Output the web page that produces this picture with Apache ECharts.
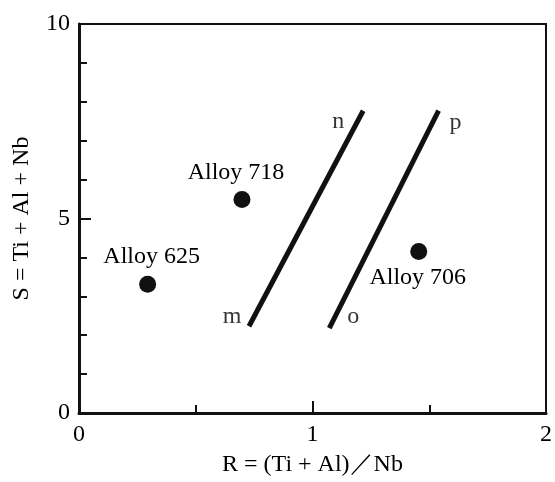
<!DOCTYPE html>
<html><head><meta charset="utf-8">
<script src="https://cdn.jsdelivr.net/npm/echarts@6/dist/echarts.min.js"></script>
<style>html,body{margin:0;padding:0;background:#fff}#c{width:555px;height:482px}</style>
</head><body><div id="c"></div>
<script>
// Data
const alloyNames = ['Alloy 625', 'Alloy 718', 'Alloy 706'];
const alloyR = [0.294, 0.698, 1.455];
const alloyS = [3.31, 5.49, 4.15];
const lineMN = [[0.728, 2.23], [1.217, 7.77]];
const lineOP = [[1.072, 2.18], [1.540, 7.77]];
const lineEndNames = ['m', 'n', 'o', 'p'];
const xTickLabels = ['0', '1', '2'];
const yTickLabels = ['0', '5', '10'];

const FONT = 'Liberation Serif';
const FS = 24;
const INK = '#000';
const alloyOffsets = [[4, -28], [-6, -27], [-1, 26]];
const endOffsets = [[-17, -10], [-25, 11], [24, -11], [17, 12]];
const ends = [lineMN[0], lineMN[1], lineOP[0], lineOP[1]];

const chart = echarts.init(document.getElementById('c'), null, {renderer: 'canvas'});
chart.setOption({
  animation: false,
  backgroundColor: '#fff',
  grid: {left: 79, right: 6, top: 24, bottom: 68, show: true, borderColor: '#111', borderWidth: 2, backgroundColor: 'transparent'},
  xAxis: {
    type: 'value', min: 0, max: 2, interval: 1,
    name: 'R = (Ti + Al)／Nb', nameLocation: 'middle', nameGap: 40,
    nameTextStyle: {fontFamily: FONT, fontSize: FS, color: INK},
    axisLine: {show: true, lineStyle: {color: '#111', width: 3}},
    axisTick: {show: true, inside: true, length: 12, lineStyle: {color: '#111', width: 2}},
    minorTick: {show: true, splitNumber: 2, length: 8, lineStyle: {color: '#111', width: 2}},
    splitLine: {show: false},
    axisLabel: {margin: 10, fontFamily: FONT, fontSize: FS, color: INK,
      formatter: v => xTickLabels[Math.round(v)] }
  },
  yAxis: {
    type: 'value', min: 0, max: 10, interval: 5,
    name: 'S = Ti + Al + Nb', nameLocation: 'middle', nameGap: 45, nameRotate: 90,
    nameTextStyle: {fontFamily: FONT, fontSize: FS, color: INK},
    axisLine: {show: true, lineStyle: {color: '#111', width: 3}},
    axisTick: {show: true, inside: true, length: 12, lineStyle: {color: '#111', width: 2}},
    minorTick: {show: true, splitNumber: 5, length: 8, lineStyle: {color: '#111', width: 2}},
    splitLine: {show: false},
    axisLabel: {margin: 9, fontFamily: FONT, fontSize: FS, color: INK,
      formatter: v => yTickLabels[Math.round(v / 5)] }
  },
  series: [
    {type: 'line', data: lineMN, showSymbol: false, symbol: 'none', lineStyle: {color: '#111', width: 5}, silent: true},
    {type: 'line', data: lineOP, showSymbol: false, symbol: 'none', lineStyle: {color: '#111', width: 5}, silent: true},
    {type: 'scatter', symbolSize: 17, itemStyle: {color: '#111', opacity: 1},
      data: alloyNames.map((n, i) => ({name: n, value: [alloyR[i], alloyS[i]],
        label: {show: true, position: 'inside', offset: alloyOffsets[i], formatter: n,
          fontFamily: FONT, fontSize: FS, color: INK}}))},
    {type: 'scatter', symbolSize: 0, itemStyle: {color: 'transparent'},
      data: lineEndNames.map((n, i) => ({name: n, value: ends[i],
        label: {show: true, position: 'inside', offset: endOffsets[i], formatter: n,
          fontFamily: FONT, fontSize: FS, color: INK}}))}
  ]
});
</script></body></html>
